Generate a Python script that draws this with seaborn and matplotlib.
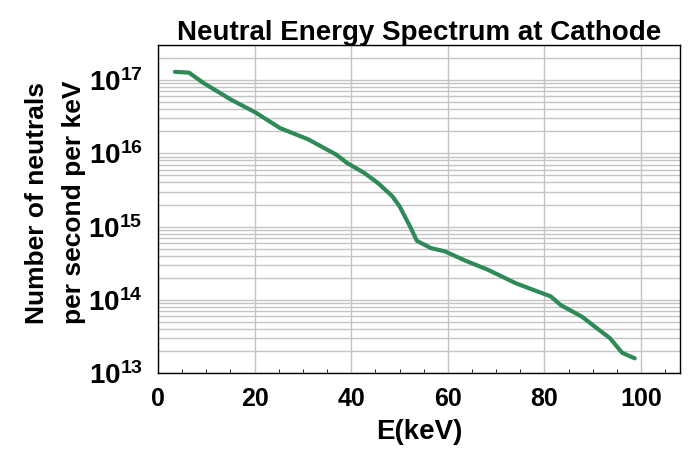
import numpy as np
import pandas as pd
import matplotlib
matplotlib.use("Agg")
import matplotlib.pyplot as plt
from matplotlib.ticker import LogLocator, MultipleLocator, FixedLocator
import seaborn as sns

energy_kev = [3.5, 6.4, 9.3, 15.1, 20.2, 25.3, 31.1, 36.9, 39.1, 42.7, 45.6, 48.5,
              50.0, 52.2, 53.6, 56.5, 59.4, 63.8, 68.2, 74.0, 77.6, 81.3, 83.4,
              87.8, 90.7, 93.6, 96.1, 98.7]
neutrals = [1.29e17, 1.26e17, 9.2e16, 5.4e16, 3.6e16, 2.2e16, 1.55e16, 9.6e15,
            7.4e15, 5.4e15, 3.9e15, 2.6e15, 1.9e15, 1.0e15, 6.4e14, 5.1e14,
            4.6e14, 3.4e14, 2.6e14, 1.7e14, 1.38e14, 1.12e14, 8.5e13, 5.9e13,
            4.2e13, 3.0e13, 1.9e13, 1.6e13]
x_ticks = [0, 20, 40, 60, 80, 100]

sns.set_style("white")
plt.rcParams['font.family'] = ['Liberation Sans', 'DejaVu Sans']
plt.rcParams['font.weight'] = 'bold'
plt.rcParams['mathtext.fontset'] = 'custom'
plt.rcParams['mathtext.rm'] = 'Liberation Sans:bold'
plt.rcParams['mathtext.bf'] = 'Liberation Sans:bold'
plt.rcParams['mathtext.it'] = 'Liberation Sans:bold'
plt.rcParams['mathtext.default'] = 'bf'
for key in ['text.color', 'axes.labelcolor', 'xtick.color', 'ytick.color']:
    plt.rcParams[key] = 'black'

df = pd.DataFrame({"E": energy_kev, "N": neutrals})

fig = plt.figure(figsize=(6.9, 4.49), dpi=100)
ax = fig.add_axes([0.229, 0.1686, 0.756, 0.7312])

sns.lineplot(data=df, x="E", y="N", ax=ax, color="#2E8B57", linewidth=3.0)
ax.set_yscale("log")
ax.set_xlim(0, 108)
ax.set_ylim(1e13, 3e17)

ax.xaxis.set_major_locator(FixedLocator(x_ticks))
ax.xaxis.set_minor_locator(MultipleLocator(5))
ax.yaxis.set_major_locator(LogLocator(base=10, numticks=10))
ax.yaxis.set_minor_locator(LogLocator(base=10, subs=np.arange(2, 10), numticks=20))

ax.grid(True, which="major", axis="both", color="#c4c4c4", linewidth=1.0)
ax.grid(True, which="minor", axis="y", color="#c4c4c4", linewidth=1.0)
ax.set_axisbelow(True)

for s in ax.spines.values():
    s.set_color("black")
    s.set_linewidth(1.0)

ax.tick_params(axis="x", which="major", direction="in", length=5, labelsize=18, pad=10)
ax.tick_params(axis="x", which="minor", direction="in", length=3, bottom=True)
ax.tick_params(axis="y", which="major", direction="in", length=5, labelsize=20, pad=11)
ax.tick_params(axis="y", which="minor", direction="in", length=0)

ax.set_xlabel("E(keV)", fontsize=20, fontweight="bold")
ax.xaxis.set_label_coords(0.5, -0.14)
ax.set_ylabel("Number of neutrals\nper second per keV", fontsize=19, fontweight="bold",
              linespacing=1.7)
ax.yaxis.set_label_coords(-0.138, 0.52)
ax.set_title("Neutral Energy Spectrum at Cathode", fontsize=20, fontweight="bold", pad=3.5)

fig.savefig("out.png", dpi=100)
